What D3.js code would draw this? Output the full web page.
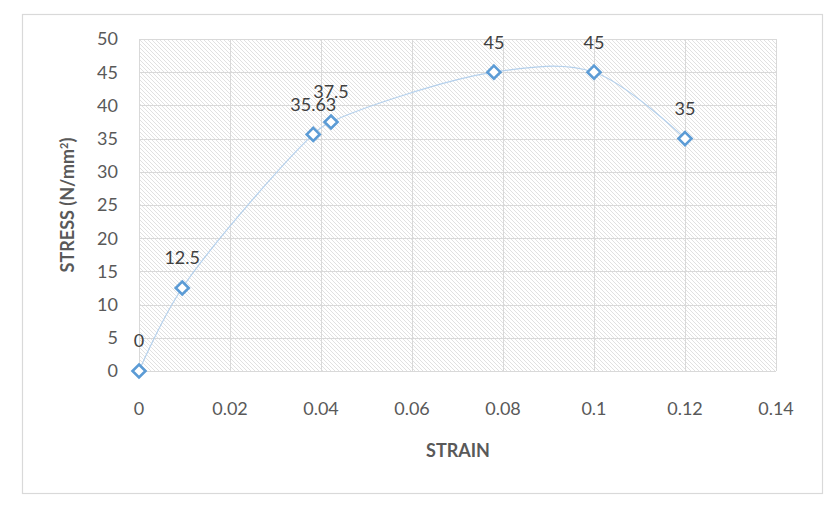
<!DOCTYPE html>
<html>
<head>
<meta charset="utf-8">
<script src="https://cdn.jsdelivr.net/npm/d3@7"></script>
<style>
  body { margin: 0; background: #fff; }
  text { font-family: Lato, "Open Sans", sans-serif; }
</style>
</head>
<body>
<div id="chart"></div>
<script>
// strain / stress readings
var strain = [0, 0.0095, 0.0383, 0.0422, 0.078, 0.1, 0.12];
var stress = [0, 12.5, 35.63, 37.5, 45, 45, 35];
var labels = ["0", "12.5", "35.63", "37.5", "45", "45", "35"];
var xTicks = [0, 0.02, 0.04, 0.06, 0.08, 0.1, 0.12, 0.14];
var yTicks = [0, 5, 10, 15, 20, 25, 30, 35, 40, 45, 50];

var width = 838, height = 506;
var plot = {left: 139, right: 776, top: 39, bottom: 371};

var svg = d3.select("#chart").append("svg")
    .attr("width", width)
    .attr("height", height);

// hatch pattern for plot area
var defs = svg.append("defs");
var pat = defs.append("pattern")
    .attr("id", "hatch")
    .attr("patternUnits", "userSpaceOnUse")
    .attr("width", 4)
    .attr("height", 4);
pat.append("rect").attr("width", 4).attr("height", 4).attr("fill", "#fff");
pat.append("path")
    .attr("d", "M-1,-1 L5,5 M-1,3 L1,5 M3,-1 L5,1")
    .attr("stroke", "#d9d9d9")
    .attr("stroke-width", 0.8);

// outer border
svg.append("rect")
    .attr("x", 22.5).attr("y", 14.5)
    .attr("width", 800).attr("height", 479)
    .attr("fill", "#fff")
    .attr("stroke", "#d9d9d9")
    .attr("stroke-width", 1.2);

var x = d3.scaleLinear().domain([0, 0.14]).range([plot.left, plot.right]);
var y = d3.scaleLinear().domain([0, 50]).range([plot.bottom, plot.top]);

svg.append("rect")
    .attr("x", plot.left).attr("y", plot.top)
    .attr("width", plot.right - plot.left)
    .attr("height", plot.bottom - plot.top)
    .attr("fill", "url(#hatch)");

// gridlines
svg.append("g").selectAll("line")
    .data(yTicks).enter().append("line")
    .attr("x1", plot.left).attr("x2", plot.right)
    .attr("y1", function (d) { return Math.round(y(d)) + 0.5; })
    .attr("y2", function (d) { return Math.round(y(d)) + 0.5; })
    .attr("stroke", "#d9d9d9");

svg.append("g").selectAll("line")
    .data(xTicks).enter().append("line")
    .attr("y1", plot.top).attr("y2", plot.bottom)
    .attr("x1", function (d) { return Math.round(x(d)) + 0.5; })
    .attr("x2", function (d) { return Math.round(x(d)) + 0.5; })
    .attr("stroke", "#d9d9d9");

// tick labels
svg.append("g").selectAll("text")
    .data(yTicks).enter().append("text")
    .attr("x", 118)
    .attr("y", function (d) { return y(d); })
    .attr("dy", "0.35em")
    .attr("text-anchor", "end")
    .attr("font-size", 18)
    .attr("fill", "#595959")
    .text(function (d) { return d; });

svg.append("g").selectAll("text")
    .data(xTicks).enter().append("text")
    .attr("x", function (d) { return x(d); })
    .attr("y", 409)
    .attr("dy", "0.35em")
    .attr("text-anchor", "middle")
    .attr("font-size", 18)
    .attr("fill", "#595959")
    .text(function (d) { return d; });

// axis titles
svg.append("text")
    .attr("x", 458).attr("y", 451)
    .attr("dy", "0.35em")
    .attr("text-anchor", "middle")
    .attr("font-size", 18)
    .attr("font-weight", "bold")
    .attr("fill", "#595959")
    .text("STRAIN");

var yt = svg.append("text")
    .attr("transform", "translate(68,205) rotate(-90)")
    .attr("dy", "0.35em")
    .attr("text-anchor", "middle")
    .attr("font-size", 18)
    .attr("font-weight", "bold")
    .attr("fill", "#595959");
yt.append("tspan").text("STRESS (N/mm");
yt.append("tspan").attr("baseline-shift", "super").attr("font-size", 11).text("2");
yt.append("tspan").text(")");

// smooth line
var pts = strain.map(function (d, i) { return [d, stress[i]]; });
var line = d3.line()
    .x(function (d) { return x(d[0]); })
    .y(function (d) { return y(d[1]); })
    .curve(d3.curveCatmullRom.alpha(0.5));

svg.append("path")
    .datum(pts)
    .attr("d", line)
    .attr("fill", "none")
    .attr("stroke", "#b4d0ec")
    .attr("stroke-width", 1.2);

// diamond markers
svg.append("g").selectAll("path")
    .data(pts).enter().append("path")
    .attr("transform", function (d) { return "translate(" + x(d[0]) + "," + y(d[1]) + ")"; })
    .attr("d", "M0,-6.5 L6.5,0 L0,6.5 L-6.5,0 Z")
    .attr("fill", "#fff")
    .attr("stroke", "#5b9bd5")
    .attr("stroke-width", 2.6);

// data labels
svg.append("g").selectAll("text")
    .data(pts).enter().append("text")
    .attr("x", function (d) { return x(d[0]); })
    .attr("y", function (d) { return y(d[1]) - 30; })
    .attr("dy", "0.35em")
    .attr("text-anchor", "middle")
    .attr("font-size", 18)
    .attr("fill", "#404040")
    .text(function (d, i) { return labels[i]; });
</script>
</body>
</html>
